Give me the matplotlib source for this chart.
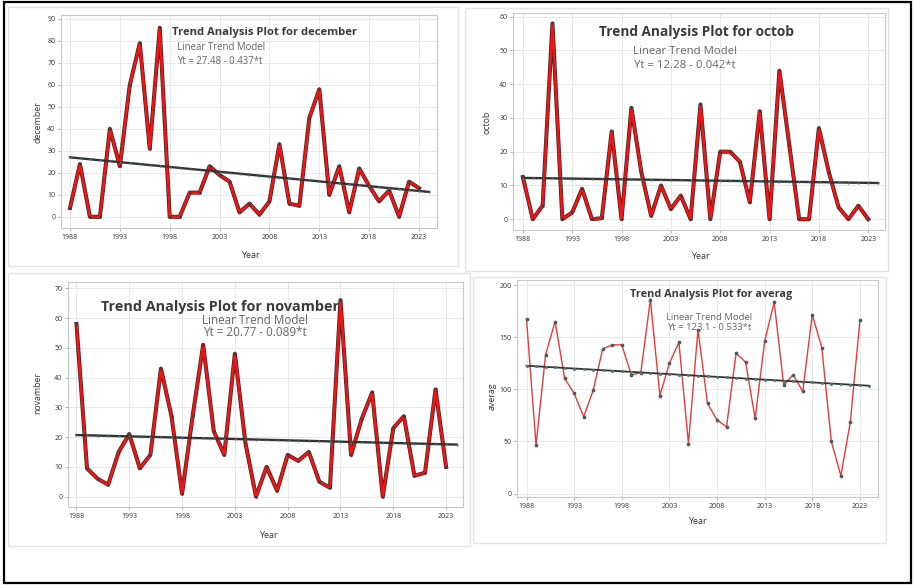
import numpy as np
import matplotlib
matplotlib.use("Agg")
import matplotlib.pyplot as plt
from matplotlib.patches import Rectangle
import matplotlib.patheffects as pe

plt.rcParams['font.family'] = ['Open Sans', 'DejaVu Sans']

years = list(range(1988, 2024))
trend_years = list(range(1988, 2025))

december = [4, 24, 0, 0, 40, 23, 60, 79, 31, 86, 0, 0, 11, 11, 23, 19, 16, 2, 6, 1,
            7, 33, 6, 5, 45, 58, 10, 23, 2, 22, 14, 7, 12, 0, 16, 13]
octob = [12.5, 0, 4, 58, 0, 2, 9, 0, 0.3, 26, 0, 33, 14, 1, 10, 3, 7, 0, 34, 0,
         20, 20, 17, 5, 32, 0, 44, 22, 0, 0, 27, 14, 3.5, 0, 4, 0]
novamber = [58, 9.5, 6, 4, 15, 21, 9.5, 14, 43, 27, 1, 27, 51, 22, 14, 48, 18, 0, 10, 2,
            14, 12, 15, 5, 3, 66, 14, 26, 35, 0, 23, 27, 7, 8, 36, 10]
averag = [167, 46.5, 133, 165, 110.5, 96, 73.7, 99, 138.8, 142.6, 142.6, 113.8, 116, 186,
          94, 125, 145, 48, 157, 86.5, 70.5, 64, 134.6, 126, 72, 146, 183.6, 104, 114, 98,
          171.5, 140, 50, 17, 69, 166]

names = ["december", "octob", "novamber", "averag"]
intercepts = [27.48, 12.28, 20.77, 123.1]
slopes = [-0.437, -0.042, -0.089, -0.533]
equations = ["Yt = 27.48 - 0.437*t", "Yt = 12.28 - 0.042*t",
             "Yt = 20.77 - 0.089*t", "Yt = 123.1 - 0.533*t"]
xticks = [1988, 1993, 1998, 2003, 2008, 2013, 2018, 2023]

W, H = 914, 585
fig = plt.figure(figsize=(W / 100, H / 100), dpi=100)
fig.patch.set_facecolor("white")


def fx(px):
    return px / W


def fy(py):
    return 1 - py / H


# panel frames (light gray) and outer black frame
for (x0, y0, x1, y1) in [(8, 7, 458, 266), (465, 8, 888, 271), (8, 273, 470, 546), (473, 277, 886, 543)]:
    fig.add_artist(Rectangle((fx(x0), fy(y1)), fx(x1) - fx(x0), fy(y0) - fy(y1),
                             transform=fig.transFigure, fill=False, ec="#e4e4e4", lw=1.0))
fig.add_artist(Rectangle((fx(4), fy(583)), fx(911) - fx(4), fy(2) - fy(583),
                         transform=fig.transFigure, fill=False, ec="black", lw=1.6))

# axes boxes in pixels: left, top, right, bottom
boxes = [(61, 15, 437, 228), (513, 13, 885, 230), (68, 282, 463, 507), (517, 280, 878, 497)]
xlims = [(1987.1, 2024.8), (1987.0, 2024.7), (1987.2, 2024.6), (1987.0, 2024.9)]
ylims = [(-5.1, 91.8), (-3.2, 61.1), (-3.5, 72.1), (-3.3, 204.8)]
yticks = [np.arange(0, 91, 10), np.arange(0, 61, 10), np.arange(0, 71, 10), np.arange(0, 201, 50)]

# text layout: title (cx, cy, size), subtitle (x, y1, y2, size, ha)
titles = [(265, 32, 8.1), (696, 32, 9.8), (220, 307, 10.4), (711, 294, 7.8)]
subs = [(177, 47, 61, 6.9, "left"), (685, 52, 66, 8.2, "center"),
        (255, 320, 332, 8.4, "center"), (709, 318, 328, 6.8, "center")]
ylabel_pos = [(38, 122), (487, 122), (38, 393), (492, 396)]
xlabel_pos = [(250, 256), (700, 257), (268, 535), (697, 522)]

series = [december, octob, novamber, averag]

for i in range(4):
    l, t, r, b = boxes[i]
    ax = fig.add_axes([fx(l), fy(b), fx(r) - fx(l), fy(t) - fy(b)])
    ax.set_xlim(*xlims[i])
    ax.set_ylim(*ylims[i])
    ax.set_xticks(xticks)
    ax.set_yticks(yticks[i])
    ax.grid(True, color="#e8e8e8", lw=0.7)
    ax.set_axisbelow(True)
    for s in ax.spines.values():
        s.set_color("#c8c8c8")
        s.set_linewidth(0.8)
    ax.tick_params(labelsize=5.0, length=2, width=0.5, color="#999999", labelcolor="#333333", pad=2)

    t_idx = np.arange(1, len(trend_years) + 1)
    trend = intercepts[i] + slopes[i] * t_idx

    if i < 3:
        ax.plot(years, series[i], color="#f01414", lw=1.9, zorder=3,
                path_effects=[pe.Stroke(linewidth=2.9, foreground="#3a2626"), pe.Normal()])
        ax.plot(years, series[i], ls="none", marker="o", ms=1.8, mfc="#3a3a3a", mec="none", zorder=3.5)
        ax.plot(trend_years, trend, color="#333333", lw=1.7, zorder=4,
                marker="o", ms=1.5, mfc="#4d7070", mec="none")
    else:
        ax.plot(years, series[i], color="#e83a3a", lw=1.0, zorder=3,
                marker="o", ms=2.7, mfc="#4a5e58", mec="none")
        ax.plot(trend_years, trend, color="#333333", lw=1.3, zorder=4,
                marker="o", ms=2.2, mfc="#4d7a70", mec="none")

    ax.set_ylabel(names[i], fontsize=6.3, color="#333333")
    ax.yaxis.set_label_coords((ylabel_pos[i][0] - l) / (r - l), (b - ylabel_pos[i][1]) / (b - t))
    ax.set_xlabel("Year", fontsize=6.5, color="#333333")
    ax.xaxis.set_label_coords((xlabel_pos[i][0] - l) / (r - l), (b - xlabel_pos[i][1]) / (b - t))
    ax.xaxis.label.set_va("center")
    ax.yaxis.label.set_va("center")

    cx, cy, ts = titles[i]
    fig.text(fx(cx), fy(cy), "Trend Analysis Plot for " + names[i], ha="center", va="center",
             fontsize=ts, fontweight="bold", color="#3a3a3a")
    sx, sy1, sy2, ss, ha = subs[i]
    fig.text(fx(sx), fy(sy1), "Linear Trend Model", ha=ha, va="center", fontsize=ss, color="#666666")
    fig.text(fx(sx), fy(sy2), equations[i], ha=ha, va="center", fontsize=ss, color="#666666")

fig.savefig("out.png", dpi=100)
